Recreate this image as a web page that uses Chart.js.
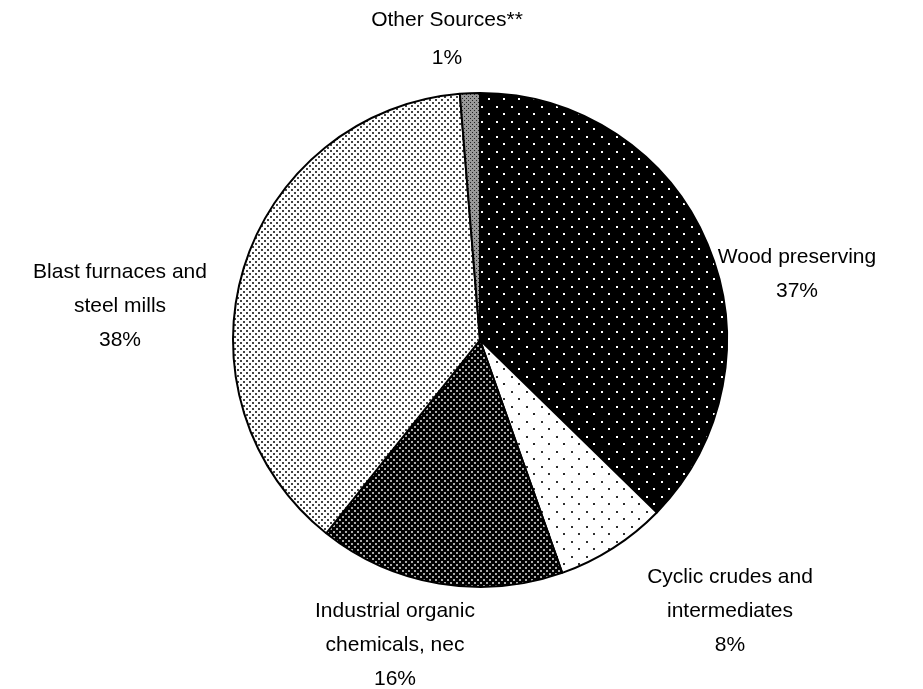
<!DOCTYPE html>
<html>
<head>
<meta charset="utf-8">
<script src="https://cdn.jsdelivr.net/npm/chart.js@4"></script>
<style>
  html, body { margin: 0; padding: 0; background: #fff; }
  canvas { display: block; }
</style>
</head>
<body>
<canvas id="pieChart" width="923" height="689"></canvas>
<script>
// slice names (one line per entry) and their shares, clockwise from 12 o'clock
var categories = [
    ["Wood preserving"],
    ["Cyclic crudes and", "intermediates"],
    ["Industrial organic", "chemicals, nec"],
    ["Blast furnaces and", "steel mills"],
    ["Other Sources**"]
];
var shares = [37.3, 7.3, 16.1, 38.0, 1.3];
var shareLabels = ["37%", "8%", "16%", "38%", "1%"];

// where each label block is centred (first line) and its line height
var labelPos = [
    [797, 257, 34],
    [730, 577, 34],
    [395, 611, 34],
    [120, 272, 34],
    [447, 20, 38]
];

/*
 * build a small repeating tile for a slice fill
 */
function makePattern(size, bg, fg, dots, dotSize) {
    var c = document.createElement('canvas');
    c.width = size;
    c.height = size;
    var g = c.getContext('2d');
    g.fillStyle = bg;
    g.fillRect(0, 0, size, size);
    g.fillStyle = fg;
    dots.forEach(function (d) {
        g.fillRect(d[0], d[1], dotSize, dotSize);
    });
    return g.createPattern(c, 'repeat');
}

var ctx = document.getElementById('pieChart').getContext('2d');

var fills = [
    makePattern(15, '#000', '#fff', [[1, 1], [8, 8]], 2),
    makePattern(15, '#fff', '#333', [[1, 1], [8, 8]], 2),
    makePattern(6, '#000', '#aaa', [[0, 0], [3, 3]], 2),
    makePattern(6, '#fff', '#444', [[0, 0], [3, 3]], 2),
    makePattern(4, '#999', '#222', [[0, 0], [2, 2]], 1)
];

// labels drawn at fixed spots beside the pie
var sliceLabels = {
    id: 'sliceLabels',
    afterDraw: function (chart) {
        var c = chart.ctx;
        c.save();
        c.fillStyle = '#000';
        c.font = '21px "Liberation Sans", Arial, sans-serif';
        c.textAlign = 'center';
        c.textBaseline = 'middle';
        categories.forEach(function (lines, i) {
            var x = labelPos[i][0];
            var y = labelPos[i][1];
            var lh = labelPos[i][2];
            lines.concat([shareLabels[i]]).forEach(function (t, j) {
                c.fillText(t, x, y + j * lh);
            });
        });
        c.restore();
    }
};

var $chart = new Chart(ctx, {
    type: 'pie',
    data: {
        labels: categories.map(function (l) { return l.join(' '); }),
        datasets: [{
            data: shares,
            backgroundColor: fills,
            borderColor: '#000',
            borderWidth: 2,
            hoverOffset: 0
        }]
    },
    options: {
        responsive: false,
        animation: false,
        layout: {
            padding: { top: 92, bottom: 101, left: 232, right: 195 }
        },
        plugins: {
            legend: { display: false },
            tooltip: { enabled: false }
        }
    },
    plugins: [sliceLabels]
});
</script>
</body>
</html>
